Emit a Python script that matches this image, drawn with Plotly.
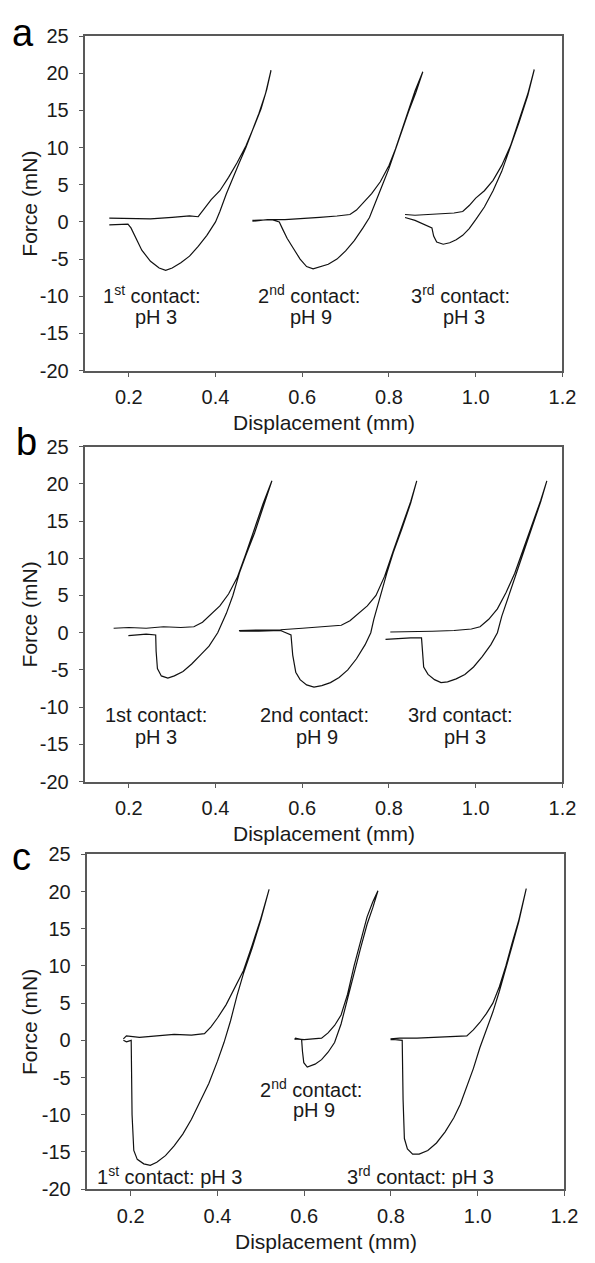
import plotly.graph_objects as go

W, H = 595, 1263

# ---------------- data (displacement mm, force mN) ----------------
# each contact: approach (loading) followed by retraction (unloading)
a1_x = [0.155,0.20,0.25,0.30,0.34,0.36,0.375,0.39,0.41,0.43,0.45,0.47,0.49,0.505,0.518,0.528,
        0.515,0.50,0.485,0.47,0.455,0.44,0.425,0.41,0.40,0.38,0.36,0.34,0.32,0.30,0.285,0.27,0.25,0.23,0.215,0.205,0.198,0.18,0.155]
a1_y = [0.5,0.5,0.4,0.6,0.8,0.7,1.8,3.0,4.2,6.0,8.0,10.2,13.0,15.2,17.8,20.4,
        17.2,14.6,12.2,10.0,8.0,6.0,3.8,1.4,0.0,-1.8,-3.3,-4.6,-5.5,-6.2,-6.5,-6.2,-5.3,-3.8,-2.0,-0.8,-0.3,-0.3,-0.4]
a2_x = [0.485,0.52,0.56,0.60,0.64,0.68,0.71,0.725,0.74,0.76,0.78,0.80,0.815,0.83,0.845,0.86,0.878,
        0.862,0.845,0.83,0.815,0.80,0.785,0.77,0.755,0.74,0.72,0.70,0.68,0.66,0.64,0.625,0.61,0.595,0.58,0.565,0.555,0.547,0.53,0.50,0.485]
a2_y = [0.1,0.3,0.3,0.4,0.6,0.8,1.0,1.6,2.5,3.8,5.4,7.6,9.8,12.4,15.2,17.6,20.2,
        17.4,14.8,12.2,9.7,7.2,5.0,2.8,0.6,-0.8,-2.5,-3.9,-5.0,-5.7,-6.1,-6.3,-6.0,-5.0,-3.6,-2.2,-1.0,0.0,0.3,0.3,0.2]
a3_x = [0.837,0.86,0.89,0.92,0.95,0.97,0.985,1.00,1.02,1.04,1.06,1.08,1.10,1.12,1.135,
        1.12,1.10,1.08,1.06,1.04,1.02,1.00,0.985,0.97,0.955,0.94,0.925,0.91,0.903,0.899,0.88,0.86,0.837]
a3_y = [1.0,0.9,1.0,1.1,1.2,1.4,2.2,3.2,4.2,5.6,7.6,10.2,13.8,17.2,20.5,
        17.0,13.4,10.0,6.8,4.2,2.0,0.3,-0.9,-1.8,-2.4,-2.8,-3.0,-2.7,-1.9,-0.8,-0.3,0.2,0.6]

b1_x = [0.165,0.20,0.24,0.28,0.32,0.35,0.37,0.39,0.41,0.43,0.45,0.47,0.49,0.51,0.53,
        0.51,0.49,0.47,0.455,0.44,0.425,0.405,0.385,0.365,0.345,0.325,0.305,0.29,0.275,0.266,0.263,0.262,0.24,0.22,0.199]
b1_y = [0.6,0.7,0.6,0.8,0.7,0.8,1.4,2.5,3.6,5.2,7.4,10.6,14.0,17.4,20.4,
        16.8,13.4,10.4,8.0,5.0,2.6,0.0,-1.8,-3.0,-4.2,-5.2,-5.8,-6.1,-5.8,-4.8,-2.5,-0.3,-0.2,-0.3,-0.4]
b2_x = [0.454,0.50,0.55,0.60,0.65,0.69,0.71,0.73,0.75,0.77,0.79,0.81,0.83,0.85,0.864,
        0.85,0.83,0.81,0.795,0.78,0.765,0.758,0.745,0.725,0.705,0.685,0.665,0.645,0.627,0.61,0.595,0.585,0.578,0.574,0.55,0.50,0.455]
b2_y = [0.3,0.3,0.4,0.6,0.8,1.0,1.6,2.6,3.6,5.0,7.6,11.0,14.4,17.6,20.4,
        17.4,14.0,10.8,8.0,5.0,1.8,0.0,-1.6,-3.5,-5.0,-6.0,-6.7,-7.1,-7.3,-7.0,-6.3,-5.3,-3.0,-0.3,0.3,0.2,0.2]
b3_x = [0.803,0.85,0.90,0.95,0.99,1.01,1.03,1.05,1.07,1.09,1.11,1.13,1.15,1.164,
        1.15,1.13,1.11,1.09,1.075,1.06,1.05,1.035,1.015,0.995,0.975,0.955,0.935,0.92,0.905,0.89,0.88,0.877,0.875,0.85,0.82,0.792]
b3_y = [0.1,0.1,0.2,0.3,0.5,0.8,1.8,3.2,5.4,8.0,11.2,14.6,17.8,20.4,
        17.6,14.2,10.8,7.6,4.8,2.2,0.0,-1.6,-3.2,-4.6,-5.6,-6.2,-6.6,-6.7,-6.3,-5.6,-4.6,-2.5,-0.7,-0.7,-0.8,-0.9]

c1_x = [0.183,0.19,0.22,0.26,0.30,0.34,0.37,0.385,0.40,0.42,0.44,0.46,0.48,0.50,0.519,
        0.50,0.48,0.46,0.445,0.43,0.415,0.40,0.38,0.36,0.34,0.32,0.30,0.28,0.26,0.245,0.23,0.215,0.207,0.203,0.202,0.201,0.19,0.183]
c1_y = [0.2,0.6,0.4,0.6,0.8,0.7,0.9,1.8,3.0,4.8,7.0,9.4,12.8,16.4,20.3,
        16.2,12.4,9.0,6.0,2.6,-0.3,-2.8,-5.8,-8.3,-10.6,-12.6,-14.2,-15.5,-16.4,-16.8,-16.6,-16.0,-14.8,-10.0,-4.0,0.0,-0.2,0.0]
c2_x = [0.578,0.60,0.62,0.64,0.655,0.67,0.685,0.70,0.715,0.73,0.745,0.758,0.77,
        0.758,0.745,0.73,0.715,0.70,0.685,0.67,0.655,0.64,0.625,0.607,0.599,0.596,0.594,0.58,0.578]
c2_y = [0.2,0.1,0.2,0.3,1.0,2.0,3.4,6.2,10.0,13.4,16.6,18.6,20.1,
        17.8,15.6,12.4,9.0,5.6,2.2,-0.3,-1.6,-2.6,-3.2,-3.6,-3.0,-1.5,0.1,0.3,0.1]
c3_x = [0.799,0.82,0.86,0.90,0.94,0.975,0.99,1.005,1.02,1.035,1.05,1.065,1.08,1.095,1.112,
        1.095,1.08,1.065,1.05,1.035,1.02,1.005,0.99,0.975,0.96,0.945,0.925,0.905,0.885,0.865,0.85,0.838,0.831,0.828,0.826,0.81,0.799]
c3_y = [0.2,0.3,0.3,0.4,0.5,0.6,1.4,2.4,3.6,5.0,7.2,10.0,13.2,16.2,20.4,
        16.0,12.8,9.6,6.6,3.8,1.4,-1.0,-3.8,-6.3,-8.6,-10.4,-12.3,-13.8,-14.8,-15.3,-15.3,-14.6,-13.2,-8.0,0.0,0.1,0.1]

x_ticks = [0.2, 0.4, 0.6, 0.8, 1.0, 1.2]
x_ticktext = ["0.2", "0.4", "0.6", "0.8", "1.0", "1.2"]
y_ticks = [25, 20, 15, 10, 5, 0, -5, -10, -15, -20]
y_ticktext = ["25", "20", "15", "10", "5", "0", "-5", "-10", "-15", "-20"]
x_title = "Displacement (mm)"
y_title = "Force (mN)"
panel_letters = ["a", "b", "c"]

labels_a = [["1<sup>st</sup> contact:", "pH 3"], ["2<sup>nd</sup> contact:", "pH 9"], ["3<sup>rd</sup> contact:", "pH 3"]]
labels_b = [["1st contact:", "pH 3"], ["2nd contact:", "pH 9"], ["3rd contact:", "pH 3"]]
labels_c = ["1<sup>st</sup> contact: pH 3", "2<sup>nd</sup> contact:", "pH 9", "3<sup>rd</sup> contact: pH 3"]

# ---------------- layout helpers (pixel geometry) ----------------
FONT = "Liberation Sans, Arial, sans-serif"
TXT = "#1a1a1a"
AX = "#595959"

def px(x):
    return x / W

def py(y):
    return 1 - y / H

# panel boxes: (left, right, top, bottom) in pixels
boxes = [(87.5, 576, 25.5, 366), (87.5, 576, 443.3, 784.3), (89.5, 578, 858.3, 1199)]

fig = go.Figure()
panels = [
    [(a1_x, a1_y), (a2_x, a2_y), (a3_x, a3_y)],
    [(b1_x, b1_y), (b2_x, b2_y), (b3_x, b3_y)],
    [(c1_x, c1_y), (c2_x, c2_y), (c3_x, c3_y)],
]

for i, curves in enumerate(panels):
    sfx = "" if i == 0 else str(i + 1)
    for cx, cy in curves:
        fig.add_trace(go.Scatter(x=cx, y=cy, mode="lines", xaxis="x" + sfx, yaxis="y" + sfx,
                                 line=dict(color="#111111", width=1.2), showlegend=False,
                                 hoverinfo="skip"))
    l, r, t, b = boxes[i]
    common = dict(showline=True, linecolor=AX, linewidth=1.5, mirror=True, ticks="outside",
                  ticklen=5, tickwidth=1.3, tickcolor=AX, showgrid=False, zeroline=False,
                  tickfont=dict(family=FONT, size=20, color=TXT))
    fig.layout["xaxis" + sfx] = dict(domain=[px(l), px(r)], range=[0.1, 1.2], anchor="y" + sfx,
                                     tickvals=x_ticks, ticktext=x_ticktext,
                                     ticklabelstandoff=3, **common)
    fig.layout["yaxis" + sfx] = dict(domain=[py(b), py(t)], range=[-20, 25], anchor="x" + sfx,
                                     tickvals=y_ticks, ticktext=y_ticktext,
                                     ticklabelstandoff=6, **common)
    # axis titles
    fig.add_annotation(text=y_title, xref="paper", yref="paper", x=px(30), y=py((t + b) / 2),
                       textangle=-90, showarrow=False, xanchor="center", yanchor="middle",
                       font=dict(family=FONT, size=21, color=TXT))
    fig.add_annotation(text=x_title, xref="paper", yref="paper", x=px((l + r) / 2), y=py(b + 53),
                       showarrow=False, xanchor="center", yanchor="middle",
                       font=dict(family=FONT, size=21, color=TXT))

# panel letters
for letter, (lx, ly) in zip(panel_letters, [(23.5, 22), (27, 439), (22.5, 861)]):
    fig.add_annotation(text=letter, xref="paper", yref="paper", x=px(lx), y=py(ly),
                       showarrow=False, xanchor="center", yanchor="middle",
                       font=dict(family=FONT, size=38, color="#000000"))

def label(text, x, y):
    fig.add_annotation(text=text, xref="paper", yref="paper", x=px(x), y=py(y),
                       showarrow=False, xanchor="center", yanchor="middle",
                       font=dict(family=FONT, size=20, color=TXT))

# panel a labels
for (l1, l2), (cx1, cx2) in zip(labels_a, [(156, 159.5), (316, 319), (472, 475)]):
    label(l1, cx1, 289)
    label(l2, cx2, 311)
# panel b labels
for (l1, l2), (cx1, cx2) in zip(labels_b, [(160, 160), (322, 325), (472, 476)]):
    label(l1, cx1, 716)
    label(l2, cx2, 739)
# panel c labels
label(labels_c[0], 173.5, 1185)
label(labels_c[1], 319, 1097)
label(labels_c[2], 322, 1118)
label(labels_c[3], 430.5, 1185)

fig.update_layout(width=W, height=H, margin=dict(l=0, r=0, t=0, b=0),
                  paper_bgcolor="white", plot_bgcolor="white")

fig.write_html("out.html")
